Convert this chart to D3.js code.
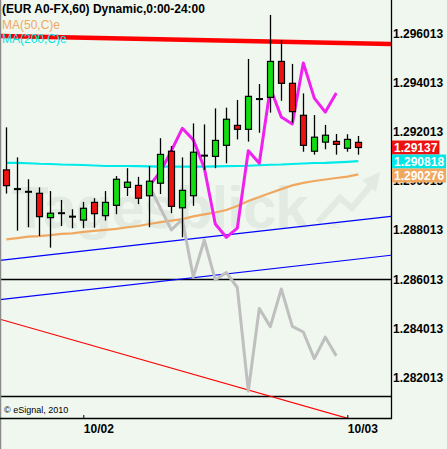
<!DOCTYPE html>
<html>
<head>
<meta charset="utf-8">
<script src="https://cdn.jsdelivr.net/npm/d3@7"></script>
<style>
  body { margin: 0; background: #eff7ef; }
  svg { display: block; font-family: "Liberation Sans", Arial, sans-serif; }
</style>
</head>
<body>
<svg id="chart" width="447" height="449"></svg>
<script>
// hourly bars, EUR A0-FX
const opens  = [1.29046,1.28968,1.28957,1.28951,1.28852,1.28870,1.28856,1.28842,1.28914,1.28860,1.28902,1.28975,1.28983,1.28941,1.28992,1.29122,1.28892,1.28941,1.29104,1.29101,1.29146,1.29227,1.29211,1.29334,1.29341,1.29487,1.29398,1.29268,1.29122,1.29159,1.29162,1.29134,1.29158];
const highs  = [1.29219,1.29097,1.29008,1.28975,1.28960,1.28924,1.28886,1.28916,1.28931,1.28960,1.29021,1.29053,1.29018,1.29062,1.29175,1.29143,1.29097,1.29235,1.29231,1.29296,1.29299,1.29330,1.29497,1.29395,1.29676,1.29574,1.29477,1.29357,1.29269,1.29229,1.29192,1.29191,1.29184];
const lows   = [1.28950,1.28799,1.28813,1.28777,1.28730,1.28818,1.28809,1.28809,1.28811,1.28840,1.28866,1.28940,1.28907,1.28813,1.28948,1.28870,1.28772,1.28900,1.29046,1.29053,1.29073,1.29170,1.29161,1.29197,1.29279,1.29327,1.29238,1.29120,1.29108,1.29130,1.29108,1.29120,1.29108];
const closes = [1.28982,1.28968,1.28957,1.28856,1.28870,1.28870,1.28856,1.28890,1.28868,1.28914,1.29008,1.28996,1.28931,1.29000,1.29109,1.28898,1.28963,1.29118,1.29104,1.29166,1.29252,1.29211,1.29345,1.29334,1.29487,1.29398,1.29283,1.29146,1.29179,1.29187,1.29150,1.29170,1.29137];

const ma50  = [1.28764,1.28769,1.28775,1.28777,1.28781,1.28786,1.28788,1.28794,1.28798,1.28802,1.28806,1.28813,1.28818,1.28826,1.28834,1.28840,1.28846,1.28857,1.28865,1.28873,1.28883,1.28899,1.28920,1.28936,1.28952,1.28968,1.28983,1.28993,1.29001,1.29007,1.29013,1.29019,1.290276];
const ma200 = [1.29075,1.29075,1.29073,1.29071,1.29070,1.29068,1.29067,1.29066,1.29064,1.29062,1.29062,1.29062,1.29061,1.29060,1.29059,1.29059,1.29059,1.29059,1.29059,1.29060,1.29061,1.29062,1.29063,1.29065,1.29067,1.29068,1.29070,1.29072,1.29074,1.29075,1.29077,1.29079,1.290818];

// two overlay series, starting at bar 13
const overlayStart = 13;
const magentaSeries = [1.28981,1.29038,1.29123,1.29215,1.29168,1.29054,1.28826,1.28772,1.28809,1.29124,1.29073,1.29379,1.29261,1.29233,1.29481,1.29338,1.29281,1.29359];
const graySeries    = [1.28981,1.28891,1.28802,1.28845,1.28611,1.28761,1.28599,1.28629,1.28568,1.28147,1.28483,1.28409,1.28562,1.28410,1.28387,1.28279,1.28366,1.28290];

// drawn lines: [bar index, price] end points
const redTrend   = [[-0.57, 1.29590], [34.97, 1.29558]];
const blueUpper  = [[-0.57, 1.28678], [34.97, 1.28857]];
const blueLower  = [[-0.57, 1.28519], [34.97, 1.28699]];
const redDown    = [[-0.57, 1.28439], [34.97, 1.27986]];
const hLevels    = [1.28601, 1.28127];

const yTicks = [1.282013,1.284013,1.286013,1.288013,1.290013,1.292013,1.294013,1.296013];
const xTickBars = [7, 31];
const xTickLabels = ["10/02", "10/03"];
const lastLabels = [
  {value: 1.29137,  text: "1.29137",  color: "#ee1111"},
  {value: 1.290818, text: "1.290818", color: "#00e6e6"},
  {value: 1.290276, text: "1.290276", color: "#f0a860"}
];

const W = 391, H = 418;
const svg = d3.select("#chart");

const x = d3.scaleLinear().domain([0, 32]).range([6.3, 358.3]);
const y = d3.scaleLinear().domain([1.280375, 1.297367]).range([H, 0]);

svg.append("rect").attr("width", 447).attr("height", 449).attr("fill", "#eff7ef");

svg.append("clipPath").attr("id", "plot")
  .append("rect").attr("width", W).attr("height", H);

const plot = svg.append("g").attr("clip-path", "url(#plot)");

// watermark
const wm = plot.append("g").attr("fill", "#e1ebe1");
wm.append("text").attr("x", 12).attr("y", 228)
  .attr("font-size", 60).attr("font-weight", "bold").attr("letter-spacing", -1)
  .text("Tagesblick");
wm.append("text").attr("x", 328).attr("y", 228).attr("font-size", 11).text("de");
wm.append("path").attr("fill", "none").attr("stroke", "#e1ebe1").attr("stroke-width", 6)
  .attr("d", "M318,222 L340,198 L352,208 L372,184");
wm.append("path").attr("d", "M362,180 L380,172 L376,192 Z");

const line = d3.line().x(d => x(d[0])).y(d => y(d[1]));

// horizontal levels
plot.selectAll("line.level").data(hLevels).enter().append("line")
  .attr("x1", 0).attr("x2", W)
  .attr("y1", d => Math.round(y(d)) + 0.5).attr("y2", d => Math.round(y(d)) + 0.5)
  .attr("stroke", "#000").attr("stroke-width", 1.4);

// trend lines
plot.append("path").attr("d", line(blueUpper)).attr("fill", "none").attr("stroke", "#0000ff").attr("stroke-width", 1.2);
plot.append("path").attr("d", line(blueLower)).attr("fill", "none").attr("stroke", "#0000ff").attr("stroke-width", 1.2);
plot.append("path").attr("d", line(redDown)).attr("fill", "none").attr("stroke", "#ff0000").attr("stroke-width", 1.2);
plot.append("path").attr("d", line(redTrend)).attr("fill", "none").attr("stroke", "#ff0000").attr("stroke-width", 4.5);

// moving averages
plot.append("path").attr("d", line(ma50.map((v, i) => [i, v])))
  .attr("fill", "none").attr("stroke", "#f0a860").attr("stroke-width", 2.2);
plot.append("path").attr("d", line(ma200.map((v, i) => [i, v])))
  .attr("fill", "none").attr("stroke", "#00eaea").attr("stroke-width", 2.2);

// overlays
plot.append("path").attr("d", line(graySeries.map((v, i) => [i + overlayStart, v])))
  .attr("fill", "none").attr("stroke", "#bfbfbf").attr("stroke-width", 3).attr("stroke-linejoin", "round");
plot.append("path").attr("d", line(magentaSeries.map((v, i) => [i + overlayStart, v])))
  .attr("fill", "none").attr("stroke", "#f020f0").attr("stroke-width", 3).attr("stroke-linejoin", "round");

// candles
const bars = opens.map((o, i) => ({i, o, h: highs[i], l: lows[i], c: closes[i]}));
const candle = plot.append("g").selectAll("g").data(bars).enter().append("g");
candle.append("line")
  .attr("x1", d => Math.round(x(d.i)) + 0.5).attr("x2", d => Math.round(x(d.i)) + 0.5)
  .attr("y1", d => y(d.h)).attr("y2", d => y(d.l))
  .attr("stroke", "#000").attr("stroke-width", 1.3);
candle.filter(d => d.o !== d.c).append("rect")
  .attr("x", d => Math.round(x(d.i)) - 2.5).attr("width", 6)
  .attr("y", d => y(Math.max(d.o, d.c)))
  .attr("height", d => Math.abs(y(d.o) - y(d.c)))
  .attr("fill", d => d.c > d.o ? "#11dd11" : "#ee1111")
  .attr("stroke", "#000").attr("stroke-width", 1.2);
candle.filter(d => d.o === d.c).append("line")
  .attr("x1", d => Math.round(x(d.i)) - 3).attr("x2", d => Math.round(x(d.i)) + 4)
  .attr("y1", d => y(d.c)).attr("y2", d => y(d.c))
  .attr("stroke", "#000").attr("stroke-width", 2);

// frame
svg.append("line").attr("x1", 0.5).attr("x2", 0.5).attr("y1", 0).attr("y2", 449)
  .attr("stroke", "#8a8a8a").attr("stroke-width", 1.5);
svg.append("line").attr("x1", W + 0.5).attr("x2", W + 0.5).attr("y1", 0).attr("y2", H + 1)
  .attr("stroke", "#000").attr("stroke-width", 1.3);
svg.append("line").attr("x1", 0).attr("x2", W + 1).attr("y1", H + 0.5).attr("y2", H + 0.5)
  .attr("stroke", "#000").attr("stroke-width", 1.5);

// y axis
const yAxis = svg.append("g").attr("transform", `translate(${W},0)`)
  .call(d3.axisRight(y).tickValues(yTicks).tickSize(0).tickPadding(2).tickFormat(d3.format(".6f")));
yAxis.select(".domain").remove();
yAxis.selectAll("text").attr("font-size", 12).attr("font-weight", "bold")
  .attr("font-family", "Liberation Sans, Arial, sans-serif").attr("fill", "#000");

// x axis
const xAxis = svg.append("g").attr("transform", `translate(0,${H})`)
  .call(d3.axisBottom(x).tickValues(xTickBars).tickSizeInner(-3).tickSizeOuter(0).tickPadding(6)
    .tickFormat((d, i) => xTickLabels[i]));
xAxis.select(".domain").remove();
xAxis.selectAll("line").attr("stroke", "#000");
xAxis.selectAll("text").attr("font-size", 12).attr("font-weight", "bold")
  .attr("font-family", "Liberation Sans, Arial, sans-serif").attr("fill", "#000")
  .attr("text-anchor", "start");

// last value boxes
const boxH = 14;
let prevBottom = -Infinity;
lastLabels.sort((a, b) => b.value - a.value).forEach(lb => {
  let top = y(lb.value) - boxH / 2;
  if (top < prevBottom) top = prevBottom;
  prevBottom = top + boxH;
  const g = svg.append("g");
  const t = g.append("text").attr("x", W + 3).attr("y", top + boxH / 2).attr("dy", "0.36em")
    .attr("font-size", 12).attr("font-weight", "bold").attr("fill", "#fff").text(lb.text);
  const tw = t.node().getComputedTextLength();
  g.insert("rect", "text").attr("x", W + 1).attr("y", top).attr("width", tw + 4).attr("height", boxH)
    .attr("fill", lb.color);
});

// titles
svg.append("text").attr("x", 2).attr("y", 13).attr("font-size", 12).attr("font-weight", "bold")
  .text("(EUR A0-FX,60) Dynamic,0:00-24:00");
svg.append("text").attr("x", 2).attr("y", 29).attr("font-size", 12).attr("fill", "#f0a860")
  .text("MA(50,C)e");
svg.append("text").attr("x", 2).attr("y", 43).attr("font-size", 12).attr("fill", "#00e6e6")
  .text("MA(200,C)e");
svg.append("text").attr("x", 4).attr("y", 413).attr("font-size", 9).attr("fill", "#000")
  .text("\u00a9 eSignal, 2010");
</script>
</body>
</html>
